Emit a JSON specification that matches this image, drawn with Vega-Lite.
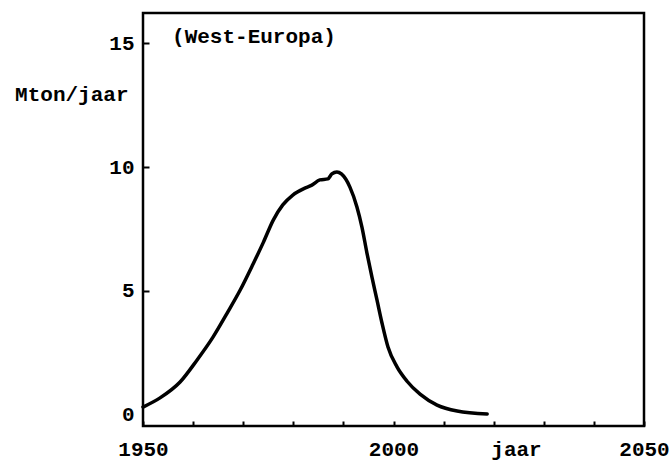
{
  "$schema": "https://vega.github.io/schema/vega-lite/v6.json",
  "width": 501,
  "height": 413,
  "autosize": {"type": "none"},
  "padding": {"left": 143, "top": 13, "right": 28, "bottom": 35},
  "background": "white",
  "config": {
    "view": {"stroke": "black", "strokeWidth": 2.5},
    "font": "Liberation Mono",
    "axis": {
      "labelFont": "Liberation Mono",
      "labelFontSize": 21,
      "labelFontWeight": "bold",
      "labelColor": "black",
      "titleFont": "Liberation Mono",
      "titleFontSize": 21,
      "titleFontWeight": "bold",
      "titleColor": "black",
      "grid": false,
      "domain": false,
      "tickColor": "black",
      "tickWidth": 2
    }
  },
  "datasets": {
    "curve": [
      {"year": 1950.0, "v": 0.32},
      {"year": 1953.4, "v": 0.69},
      {"year": 1957.4, "v": 1.33},
      {"year": 1960.8, "v": 2.22},
      {"year": 1964.0, "v": 3.15},
      {"year": 1966.8, "v": 4.11},
      {"year": 1969.4, "v": 5.04},
      {"year": 1972.0, "v": 6.1},
      {"year": 1974.0, "v": 6.95},
      {"year": 1976.0, "v": 7.86},
      {"year": 1977.9, "v": 8.47},
      {"year": 1979.9, "v": 8.87},
      {"year": 1982.3, "v": 9.15},
      {"year": 1983.7, "v": 9.27},
      {"year": 1985.3, "v": 9.48},
      {"year": 1986.9, "v": 9.52},
      {"year": 1987.7, "v": 9.72},
      {"year": 1988.7, "v": 9.80},
      {"year": 1989.6, "v": 9.72},
      {"year": 1991.3, "v": 9.19},
      {"year": 1992.7, "v": 8.39},
      {"year": 1993.7, "v": 7.58},
      {"year": 1994.7, "v": 6.53},
      {"year": 1995.7, "v": 5.56},
      {"year": 1996.7, "v": 4.64},
      {"year": 1997.7, "v": 3.71},
      {"year": 1998.9, "v": 2.74},
      {"year": 2000.7, "v": 1.94},
      {"year": 2002.7, "v": 1.36},
      {"year": 2005.3, "v": 0.84},
      {"year": 2008.7, "v": 0.40},
      {"year": 2012.7, "v": 0.16},
      {"year": 2018.7, "v": 0.04}
    ],
    "notes": [
      {"year": 1955.8, "v": 15.0, "label": "(West-Europa)"}
    ]
  },
  "layer": [
    {
      "data": {"name": "curve"},
      "mark": {"type": "line", "color": "black", "strokeWidth": 3.5, "interpolate": "monotone", "strokeCap": "round", "clip": false},
      "encoding": {
        "x": {
          "field": "year",
          "type": "quantitative",
          "scale": {"domain": [1950, 2050], "nice": false, "zero": false},
          "axis": {
            "values": [1950, 1960, 1970, 1980, 1990, 2000, 2010, 2020, 2030, 2040, 2050],
            "labelExpr": "datum.value == 1950 || datum.value == 2000 || datum.value == 2050 ? datum.label : ''",
            "format": "d",
            "tickSize": -5,
            "labelPadding": 17,
            "labelFlush": false,
            "labelOverlap": false,
            "title": "jaar",
            "titleX": 373,
            "titleY": 29,
            "titleBaseline": "alphabetic",
            "titleAnchor": "middle",
            "titleAlign": "center"
          }
        },
        "y": {
          "field": "v",
          "type": "quantitative",
          "scale": {"domain": [-0.444, 16.21], "nice": false, "zero": false},
          "axis": {
            "values": [0, 5, 10, 15],
            "tickSize": -6,
            "tickOpacity": {"condition": {"test": "datum.value == 0", "value": 0}, "value": 1},
            "labelPadding": 15,
            "title": "Mton/jaar",
            "titleAngle": 0,
            "titleAlign": "right",
            "titleBaseline": "alphabetic",
            "titleX": -15,
            "titleY": 87
          }
        }
      }
    },
    {
      "data": {"name": "notes"},
      "mark": {"type": "text", "font": "Liberation Mono", "fontSize": 21, "fontWeight": "bold", "align": "left", "baseline": "alphabetic", "color": "black"},
      "encoding": {
        "x": {"field": "year", "type": "quantitative"},
        "y": {"field": "v", "type": "quantitative"},
        "text": {"field": "label"}
      }
    }
  ]
}
